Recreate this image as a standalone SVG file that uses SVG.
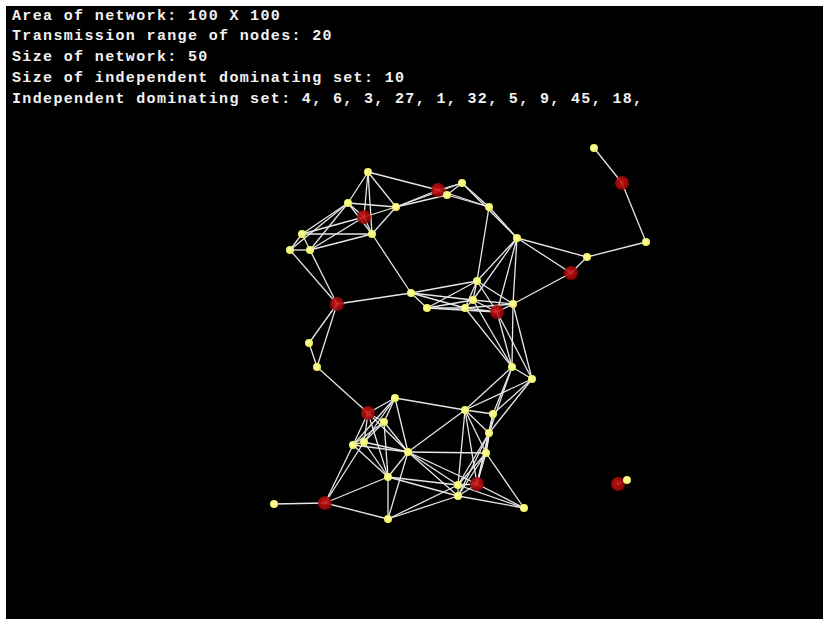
<svg xmlns="http://www.w3.org/2000/svg" width="823" height="624" viewBox="0 0 823 624">
<defs>
<radialGradient id="gr" cx="0.45" cy="0.45" r="0.6">
<stop offset="0" stop-color="#d81a1a"/>
<stop offset="1" stop-color="#8a0000"/>
</radialGradient>
<radialGradient id="gy" cx="0.45" cy="0.45" r="0.6">
<stop offset="0" stop-color="#ffffb0"/>
<stop offset="1" stop-color="#f0f050"/>
</radialGradient>
</defs>
<style>
.t{font-family:"Liberation Mono","DejaVu Sans Mono",monospace;font-size:15px;font-weight:bold;fill:#f2f2f2;letter-spacing:1.35px}
.e line{stroke:#e6e6e6;stroke-width:1.3}
.r{fill:url(#gr);opacity:0.9}
.y{fill:url(#gy)}
</style>
<rect x="0" y="0" width="823" height="624" fill="#ffffff"/>
<rect x="6" y="6" width="817" height="613" fill="#000000"/>
<g id="info">
<text class="t" x="12" y="19.5">Area of network: 100 X 100</text>
<text class="t" x="12" y="40.3">Transmission range of nodes: 20</text>
<text class="t" x="12" y="61.1">Size of network: 50</text>
<text class="t" x="12" y="81.9">Size of independent dominating set: 10</text>
<text class="t" x="12" y="102.7">Independent dominating set: 4, 6, 3, 27, 1, 32, 5, 9, 45, 18,</text>
</g>
<g id="connectors" class="e">
<line x1="368" y1="172" x2="438" y2="190"/>
<line x1="368" y1="172" x2="348" y2="203"/>
<line x1="368" y1="172" x2="396" y2="207"/>
<line x1="368" y1="172" x2="364" y2="217"/>
<line x1="368" y1="172" x2="372" y2="234"/>
<line x1="438" y1="190" x2="462" y2="183"/>
<line x1="438" y1="190" x2="447" y2="195"/>
<line x1="438" y1="190" x2="489" y2="207"/>
<line x1="438" y1="190" x2="396" y2="207"/>
<line x1="462" y1="183" x2="447" y2="195"/>
<line x1="462" y1="183" x2="489" y2="207"/>
<line x1="462" y1="183" x2="396" y2="207"/>
<line x1="462" y1="183" x2="517" y2="238"/>
<line x1="447" y1="195" x2="489" y2="207"/>
<line x1="447" y1="195" x2="396" y2="207"/>
<line x1="489" y1="207" x2="517" y2="238"/>
<line x1="489" y1="207" x2="477" y2="281"/>
<line x1="348" y1="203" x2="396" y2="207"/>
<line x1="348" y1="203" x2="364" y2="217"/>
<line x1="348" y1="203" x2="372" y2="234"/>
<line x1="348" y1="203" x2="302" y2="234"/>
<line x1="348" y1="203" x2="290" y2="250"/>
<line x1="348" y1="203" x2="310" y2="250"/>
<line x1="396" y1="207" x2="364" y2="217"/>
<line x1="396" y1="207" x2="372" y2="234"/>
<line x1="364" y1="217" x2="372" y2="234"/>
<line x1="364" y1="217" x2="302" y2="234"/>
<line x1="364" y1="217" x2="310" y2="250"/>
<line x1="372" y1="234" x2="302" y2="234"/>
<line x1="372" y1="234" x2="310" y2="250"/>
<line x1="372" y1="234" x2="411" y2="293"/>
<line x1="302" y1="234" x2="290" y2="250"/>
<line x1="302" y1="234" x2="310" y2="250"/>
<line x1="290" y1="250" x2="310" y2="250"/>
<line x1="290" y1="250" x2="337" y2="304"/>
<line x1="310" y1="250" x2="337" y2="304"/>
<line x1="517" y1="238" x2="477" y2="281"/>
<line x1="517" y1="238" x2="473" y2="300"/>
<line x1="517" y1="238" x2="497" y2="312"/>
<line x1="517" y1="238" x2="513" y2="304"/>
<line x1="517" y1="238" x2="571" y2="273"/>
<line x1="517" y1="238" x2="587" y2="257"/>
<line x1="411" y1="293" x2="477" y2="281"/>
<line x1="411" y1="293" x2="427" y2="308"/>
<line x1="411" y1="293" x2="473" y2="300"/>
<line x1="411" y1="293" x2="465" y2="308"/>
<line x1="411" y1="293" x2="337" y2="304"/>
<line x1="477" y1="281" x2="427" y2="308"/>
<line x1="477" y1="281" x2="473" y2="300"/>
<line x1="477" y1="281" x2="465" y2="308"/>
<line x1="477" y1="281" x2="497" y2="312"/>
<line x1="477" y1="281" x2="513" y2="304"/>
<line x1="427" y1="308" x2="473" y2="300"/>
<line x1="427" y1="308" x2="465" y2="308"/>
<line x1="427" y1="308" x2="497" y2="312"/>
<line x1="473" y1="300" x2="465" y2="308"/>
<line x1="473" y1="300" x2="497" y2="312"/>
<line x1="473" y1="300" x2="513" y2="304"/>
<line x1="473" y1="300" x2="512" y2="367"/>
<line x1="465" y1="308" x2="497" y2="312"/>
<line x1="465" y1="308" x2="513" y2="304"/>
<line x1="465" y1="308" x2="512" y2="367"/>
<line x1="497" y1="312" x2="513" y2="304"/>
<line x1="497" y1="312" x2="512" y2="367"/>
<line x1="497" y1="312" x2="532" y2="379"/>
<line x1="513" y1="304" x2="571" y2="273"/>
<line x1="513" y1="304" x2="512" y2="367"/>
<line x1="513" y1="304" x2="532" y2="379"/>
<line x1="571" y1="273" x2="587" y2="257"/>
<line x1="587" y1="257" x2="646" y2="242"/>
<line x1="646" y1="242" x2="622" y2="183"/>
<line x1="622" y1="183" x2="594" y2="148"/>
<line x1="337" y1="304" x2="309" y2="343"/>
<line x1="337" y1="304" x2="317" y2="367"/>
<line x1="309" y1="343" x2="317" y2="367"/>
<line x1="317" y1="367" x2="368" y2="413"/>
<line x1="512" y1="367" x2="532" y2="379"/>
<line x1="512" y1="367" x2="465" y2="410"/>
<line x1="512" y1="367" x2="493" y2="414"/>
<line x1="512" y1="367" x2="489" y2="433"/>
<line x1="532" y1="379" x2="465" y2="410"/>
<line x1="532" y1="379" x2="493" y2="414"/>
<line x1="532" y1="379" x2="489" y2="433"/>
<line x1="368" y1="413" x2="395" y2="398"/>
<line x1="368" y1="413" x2="384" y2="422"/>
<line x1="368" y1="413" x2="353" y2="445"/>
<line x1="368" y1="413" x2="364" y2="442"/>
<line x1="368" y1="413" x2="408" y2="452"/>
<line x1="368" y1="413" x2="388" y2="477"/>
<line x1="395" y1="398" x2="465" y2="410"/>
<line x1="395" y1="398" x2="384" y2="422"/>
<line x1="395" y1="398" x2="353" y2="445"/>
<line x1="395" y1="398" x2="364" y2="442"/>
<line x1="395" y1="398" x2="408" y2="452"/>
<line x1="465" y1="410" x2="493" y2="414"/>
<line x1="465" y1="410" x2="489" y2="433"/>
<line x1="465" y1="410" x2="408" y2="452"/>
<line x1="465" y1="410" x2="486" y2="453"/>
<line x1="465" y1="410" x2="458" y2="485"/>
<line x1="465" y1="410" x2="477" y2="484"/>
<line x1="493" y1="414" x2="489" y2="433"/>
<line x1="493" y1="414" x2="486" y2="453"/>
<line x1="493" y1="414" x2="477" y2="484"/>
<line x1="384" y1="422" x2="353" y2="445"/>
<line x1="384" y1="422" x2="364" y2="442"/>
<line x1="384" y1="422" x2="408" y2="452"/>
<line x1="384" y1="422" x2="388" y2="477"/>
<line x1="489" y1="433" x2="486" y2="453"/>
<line x1="489" y1="433" x2="458" y2="485"/>
<line x1="489" y1="433" x2="477" y2="484"/>
<line x1="489" y1="433" x2="458" y2="496"/>
<line x1="353" y1="445" x2="364" y2="442"/>
<line x1="353" y1="445" x2="408" y2="452"/>
<line x1="353" y1="445" x2="388" y2="477"/>
<line x1="353" y1="445" x2="325" y2="503"/>
<line x1="364" y1="442" x2="408" y2="452"/>
<line x1="364" y1="442" x2="388" y2="477"/>
<line x1="364" y1="442" x2="325" y2="503"/>
<line x1="408" y1="452" x2="486" y2="453"/>
<line x1="408" y1="452" x2="388" y2="477"/>
<line x1="408" y1="452" x2="458" y2="485"/>
<line x1="408" y1="452" x2="477" y2="484"/>
<line x1="408" y1="452" x2="458" y2="496"/>
<line x1="408" y1="452" x2="388" y2="519"/>
<line x1="486" y1="453" x2="458" y2="485"/>
<line x1="486" y1="453" x2="477" y2="484"/>
<line x1="486" y1="453" x2="458" y2="496"/>
<line x1="486" y1="453" x2="524" y2="508"/>
<line x1="388" y1="477" x2="458" y2="485"/>
<line x1="388" y1="477" x2="458" y2="496"/>
<line x1="388" y1="477" x2="325" y2="503"/>
<line x1="388" y1="477" x2="388" y2="519"/>
<line x1="458" y1="485" x2="477" y2="484"/>
<line x1="458" y1="485" x2="458" y2="496"/>
<line x1="458" y1="485" x2="524" y2="508"/>
<line x1="458" y1="485" x2="388" y2="519"/>
<line x1="477" y1="484" x2="458" y2="496"/>
<line x1="477" y1="484" x2="524" y2="508"/>
<line x1="458" y1="496" x2="524" y2="508"/>
<line x1="458" y1="496" x2="388" y2="519"/>
<line x1="325" y1="503" x2="274" y2="504"/>
<line x1="325" y1="503" x2="388" y2="519"/>
<line x1="618" y1="484" x2="627" y2="480"/>
</g>
<g id="dominators">
<g id="node-R1"><circle class="r" cx="438" cy="190" r="7"/></g>
<g id="node-R2"><circle class="r" cx="364" cy="217" r="7"/></g>
<g id="node-R3"><circle class="r" cx="337" cy="304" r="7"/></g>
<g id="node-R4"><circle class="r" cx="497" cy="312" r="7"/></g>
<g id="node-R5"><circle class="r" cx="571" cy="273" r="7"/></g>
<g id="node-R6"><circle class="r" cx="622" cy="183" r="7"/></g>
<g id="node-R7"><circle class="r" cx="368" cy="413" r="7"/></g>
<g id="node-R8"><circle class="r" cx="477" cy="484" r="7"/></g>
<g id="node-R9"><circle class="r" cx="325" cy="503" r="7"/></g>
<g id="node-R10"><circle class="r" cx="618" cy="484" r="7"/></g>
</g>
<g id="others">
<g id="node-Y1"><circle class="y" cx="368" cy="172" r="4"/></g>
<g id="node-Y2"><circle class="y" cx="462" cy="183" r="4"/></g>
<g id="node-Y3"><circle class="y" cx="447" cy="195" r="4"/></g>
<g id="node-Y4"><circle class="y" cx="489" cy="207" r="4"/></g>
<g id="node-Y5"><circle class="y" cx="348" cy="203" r="4"/></g>
<g id="node-Y6"><circle class="y" cx="396" cy="207" r="4"/></g>
<g id="node-Y7"><circle class="y" cx="372" cy="234" r="4"/></g>
<g id="node-Y8"><circle class="y" cx="302" cy="234" r="4"/></g>
<g id="node-Y9"><circle class="y" cx="290" cy="250" r="4"/></g>
<g id="node-Y10"><circle class="y" cx="310" cy="250" r="4"/></g>
<g id="node-Y11"><circle class="y" cx="517" cy="238" r="4"/></g>
<g id="node-Y12"><circle class="y" cx="411" cy="293" r="4"/></g>
<g id="node-Y13"><circle class="y" cx="477" cy="281" r="4"/></g>
<g id="node-Y14"><circle class="y" cx="427" cy="308" r="4"/></g>
<g id="node-Y15"><circle class="y" cx="473" cy="300" r="4"/></g>
<g id="node-Y16"><circle class="y" cx="465" cy="308" r="4"/></g>
<g id="node-Y17"><circle class="y" cx="513" cy="304" r="4"/></g>
<g id="node-Y18"><circle class="y" cx="594" cy="148" r="4"/></g>
<g id="node-Y19"><circle class="y" cx="646" cy="242" r="4"/></g>
<g id="node-Y20"><circle class="y" cx="587" cy="257" r="4"/></g>
<g id="node-Y21"><circle class="y" cx="309" cy="343" r="4"/></g>
<g id="node-Y22"><circle class="y" cx="317" cy="367" r="4"/></g>
<g id="node-Y23"><circle class="y" cx="512" cy="367" r="4"/></g>
<g id="node-Y24"><circle class="y" cx="532" cy="379" r="4"/></g>
<g id="node-Y25"><circle class="y" cx="395" cy="398" r="4"/></g>
<g id="node-Y26"><circle class="y" cx="465" cy="410" r="4"/></g>
<g id="node-Y27"><circle class="y" cx="493" cy="414" r="4"/></g>
<g id="node-Y28"><circle class="y" cx="384" cy="422" r="4"/></g>
<g id="node-Y29"><circle class="y" cx="489" cy="433" r="4"/></g>
<g id="node-Y30"><circle class="y" cx="353" cy="445" r="4"/></g>
<g id="node-Y31"><circle class="y" cx="364" cy="442" r="4"/></g>
<g id="node-Y32"><circle class="y" cx="408" cy="452" r="4"/></g>
<g id="node-Y33"><circle class="y" cx="486" cy="453" r="4"/></g>
<g id="node-Y34"><circle class="y" cx="388" cy="477" r="4"/></g>
<g id="node-Y35"><circle class="y" cx="458" cy="485" r="4"/></g>
<g id="node-Y36"><circle class="y" cx="458" cy="496" r="4"/></g>
<g id="node-Y37"><circle class="y" cx="524" cy="508" r="4"/></g>
<g id="node-Y38"><circle class="y" cx="274" cy="504" r="4"/></g>
<g id="node-Y39"><circle class="y" cx="388" cy="519" r="4"/></g>
<g id="node-Y40"><circle class="y" cx="627" cy="480" r="4"/></g>
</g>
</svg>
